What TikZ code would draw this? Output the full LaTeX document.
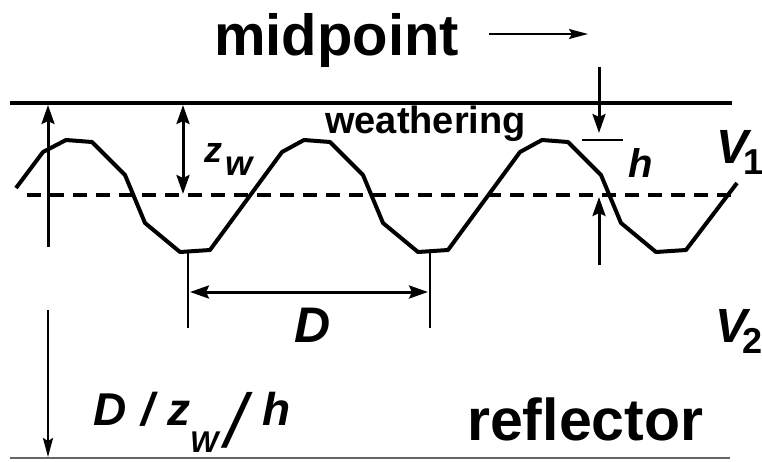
\documentclass[tikz,border=0pt]{standalone}
\usepackage{fontspec}
\setmainfont{Liberation Sans}
\usetikzlibrary{arrows.meta}
\newcommand{\lowtxt}[3]{\raisebox{-#2}{\fontsize{#1}{#1}\selectfont #3}}

\begin{document}
\begin{tikzpicture}[
    x=1pt, y=-1pt,
    lbl/.style={inner sep=0pt, anchor=base west, font=\bfseries},
    var/.style={inner sep=0pt, anchor=base west, font=\bfseries\itshape},
    surface/.style={line width=4pt},
    wave/.style={line width=4pt, line join=round},
    mean/.style={line width=3.5pt, dash pattern=on 14pt off 9pt},
    arrow/.style={-{Stealth[length=19pt, width=13pt, inset=3pt]}, line width=3pt},
    darrow/.style={{Stealth[length=19pt, width=13pt, inset=3pt]}-{Stealth[length=19pt, width=13pt, inset=3pt]}, line width=3pt},
    slim/.style={-{Stealth[length=19pt, width=10pt, inset=3pt]}, line width=2pt},
    tick/.style={line width=2.5pt}
]
    \useasboundingbox (0,0) rectangle (762,461);

    % reference lines
    \coordinate (topL) at (10,103);
    \coordinate (topR) at (732,103);
    \coordinate (midL) at (27,195);
    \coordinate (midR) at (735,195);
    \coordinate (botL) at (10,458);
    \coordinate (botR) at (730,458);
    \draw[surface] (topL) -- (topR);
    \draw[mean] (midL) -- (midR);
    \draw[line width=2pt, draw=black!60] (botL) -- (botR);

    % weathered interface
    \draw[wave] plot coordinates {(16,188) (43,152) (66,140) (92,142) (125,175) (145,223)
        (180,252) (210,250) (282,152) (304,140) (330,142) (363,175) (383,223) (418,252)
        (448,250) (520,152) (542,140) (568,142) (601,175) (621,223) (656,252) (686,250) (737,183)};

    % texts
    \node[lbl, font=\fontsize{58}{58}\selectfont\bfseries] (midpoint) at (214,55) {midpoint};
    \node[lbl, font=\fontsize{38}{38}\selectfont\bfseries] (weathering) at (325,133) {weathering};
    \node[lbl, font=\fontsize{59}{59}\selectfont\bfseries] (reflector) at (467,440) {reflector};
    \node[var, font=\fontsize{36}{36}\selectfont\bfseries\itshape] (zw) at (204,162)
        {z\hspace{3pt}\lowtxt{35}{13pt}{w}};
    \node[var, font=\fontsize{40}{40}\selectfont\bfseries\itshape] (hlab) at (628,177) {h};
    \node[var, font=\fontsize{48}{48}\selectfont\bfseries\itshape] (vone) at (716,163)
        {V\hspace{-5pt}\lowtxt{36}{11pt}{\upshape 1}};
    \node[var, font=\fontsize{48}{48}\selectfont\bfseries\itshape] (vtwo) at (715,342)
        {V\hspace{-5pt}\lowtxt{36}{11pt}{\upshape 2}};
    \node[var, font=\fontsize{50}{50}\selectfont\bfseries\itshape] (dlab) at (294,342) {D};
    \node[var, font=\fontsize{46}{46}\selectfont\bfseries\itshape] (ratio) at (93,425)
        {D\hspace{15pt}/\hspace{13pt}z\hspace{0pt}\lowtxt{30}{27pt}{W}\hspace{7pt}\lowtxt{76}{22pt}{\mdseries /}\hspace{16pt}h};

    % arrows
    \coordinate (pointer) at (489,34);
    \coordinate (pointtip) at (588,34);
    \draw[slim] (pointer) -- (pointtip);

    \coordinate (upfoot) at (48,247);
    \coordinate (uphead) at (48,105);
    \draw[arrow] (upfoot) -- (uphead);

    \coordinate (downtop) at (48,310);
    \coordinate (downfoot) at (48,457);
    \draw[slim] (downtop) -- (downfoot);

    \coordinate (zwtop) at (183,105);
    \coordinate (zwbot) at (183,194);
    \draw[darrow] (zwtop) -- (zwbot);

    \coordinate (htop) at (599,67);
    \coordinate (htip) at (599,133);
    \coordinate (hbot) at (599,265);
    \coordinate (hbase) at (599,197);
    \coordinate (hcapL) at (582,140);
    \coordinate (hcapR) at (623,140);
    \draw[arrow] (htop) -- (htip);
    \draw[tick] (hcapL) -- (hcapR);
    \draw[arrow] (hbot) -- (hbase);

    \coordinate (dtickLa) at (188,250);
    \coordinate (dtickLb) at (188,328);
    \coordinate (dtickRa) at (430,250);
    \coordinate (dtickRb) at (430,328);
    \coordinate (dstart) at (190,292);
    \coordinate (dend) at (428,292);
    \draw[tick] (dtickLa) -- (dtickLb);
    \draw[tick] (dtickRa) -- (dtickRb);
    \draw[darrow] (dstart) -- (dend);
\end{tikzpicture}
\end{document}
